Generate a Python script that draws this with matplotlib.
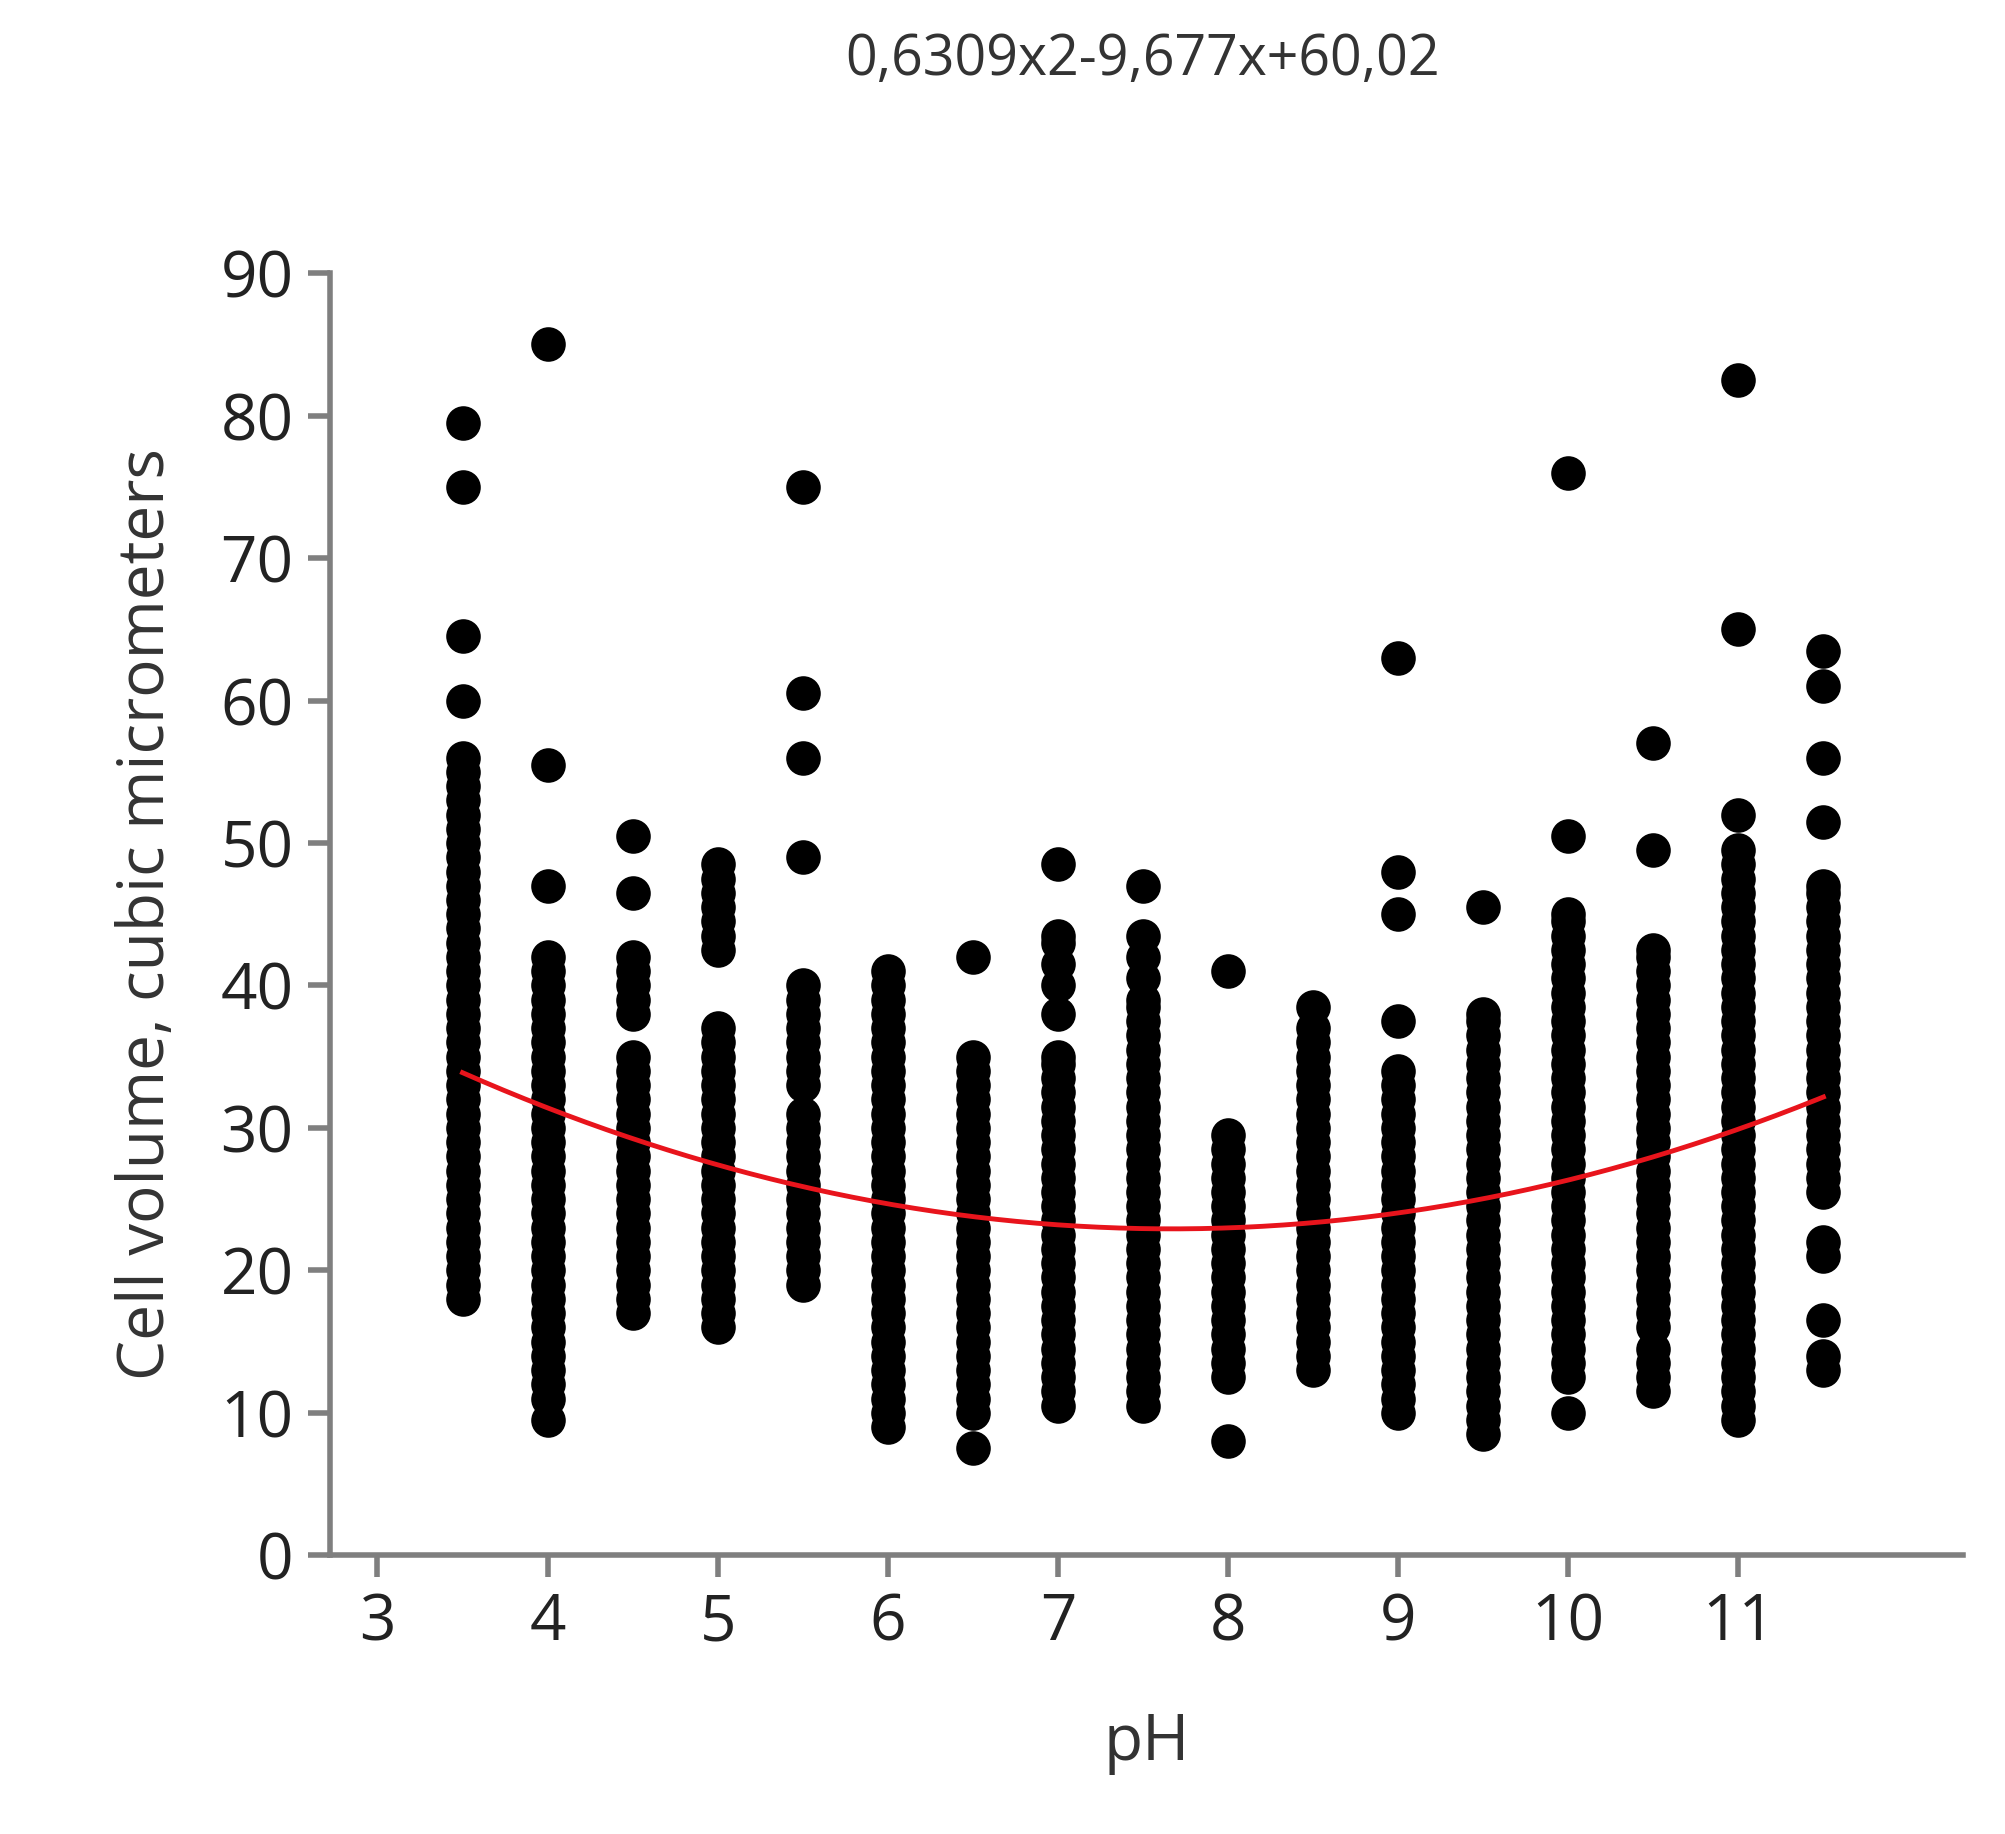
import matplotlib
matplotlib.use("Agg")
import matplotlib.pyplot as plt
import numpy as np

ph_levels = [3.5, 4, 4.5, 5, 5.5, 6, 6.5, 7, 7.5, 8, 8.5, 9, 9.5, 10, 10.5, 11, 11.5]
volumes = [
    [18,19,20,21,22,23,24,25,26,27,28,29,30,31,32,33,34,35,36,37,38,39,40,41,42,43,44,45,46,47,48,49,50,51,52,53,54,55,56,60,64.5,75,79.5],
    [9.5,11,12,13,14,15,16,17,18,19,20,21,22,23,24,25,26,27,28,29,30,31,32,33,34,35,36,37,38,39,40,41,42,47,55.5,85],
    [17,18,19,20,21,22,23,24,25,26,27,28,29,30,31,32,33,34,35,38,39,40,41,42,46.5,50.5],
    [16,17,18,19,20,21,22,23,24,25,26,27,28,29,30,31,32,33,34,35,36,37,42.5,43.5,44.5,45.5,46.5,47.5,48.5],
    [19,20,21,22,23,24,25,26,27,28,29,30,31,33,34,35,36,37,38,39,40,49,56,60.5,75],
    [9,10,11,12,13,14,15,16,17,18,19,20,21,22,23,24,25,26,27,28,29,30,31,32,33,34,35,36,37,38,39,40,41],
    [7.5,10,11,12,13,14,15,16,17,18,19,20,21,22,23,24,25,26,27,28,29,30,31,32,33,34,35,42],
    [10.5,11.5,12.5,13.5,14.5,15.5,16.5,17.5,18.5,19.5,20.5,21.5,22.5,23.5,24.5,25.5,26.5,27.5,28.5,29.5,30.5,31.5,32.5,33.5,34.5,35,38,40,41.5,43,43.5,48.5],
    [10.5,11.5,12.5,13.5,14.5,15.5,16.5,17.5,18.5,19.5,20.5,21.5,22.5,23.5,24.5,25.5,26.5,27.5,28.5,29.5,30.5,31.5,32.5,33.5,34.5,35.5,36.5,37.5,38.5,39,40.5,42,43.5,47],
    [8,12.5,13.5,14.5,15.5,16.5,17.5,18.5,19.5,20.5,21.5,22.5,23.5,24.5,25.5,26.5,27.5,28.5,29.5,41],
    [13,14,15,16,17,18,19,20,21,22,23,24,25,26,27,28,29,30,31,32,33,34,35,36,37,38.5],
    [10,11,12,13,14,15,16,17,18,19,20,21,22,23,24,25,26,27,28,29,30,31,32,33,34,37.5,45,48,63],
    [8.5,9.5,10.5,11.5,12.5,13.5,14.5,15.5,16.5,17.5,18.5,19.5,20.5,21.5,22.5,23.5,24.5,25.5,26.5,27.5,28.5,29.5,30.5,31.5,32.5,33.5,34.5,35.5,36.5,37.5,38,45.5],
    [10,12.5,13.5,14.5,15.5,16.5,17.5,18.5,19.5,20.5,21.5,22.5,23.5,24.5,25.5,26.5,27.5,28.5,29.5,30.5,31.5,32.5,33.5,34.5,35.5,36.5,37.5,38.5,39.5,40.5,41.5,42.5,43.5,44.5,45,50.5,76],
    [11.5,12.5,13.5,14.5,16,17,18,19,20,21,22,23,24,25,26,27,28,29,30,31,32,33,34,35,36,37,38,39,40,41,42,42.5,49.5,57],
    [9.5,10.5,11.5,12.5,13.5,14.5,15.5,16.5,17.5,18.5,19.5,20.5,21.5,22.5,23.5,24.5,25.5,26.5,27.5,28.5,29.5,30.5,31.5,32.5,33.5,34.5,35.5,36.5,37.5,38.5,39.5,40.5,41.5,42.5,43.5,44.5,45.5,46.5,47.5,48.5,49.5,52,65,82.5],
    [13,14,16.5,21,22,25.5,26.5,27.5,28.5,29.5,30.5,31.5,32.5,33.5,34.5,35.5,36.5,37.5,38.5,39.5,40.5,41.5,42.5,43.5,44.5,45.5,46.5,47,51.5,56,61,63.5],
]
coef = [0.6309, -9.677, 60.02]
title = "0,6309x2-9,677x+60,02"

plt.rcParams['font.family'] = ['Open Sans', 'DejaVu Sans']
fig = plt.figure(figsize=(20.05, 18.34), dpi=100)
ax = fig.add_axes([0.1645, 0.152, 0.8145, 0.699])

for x, vals in zip(ph_levels, volumes):
    ax.scatter([x]*len(vals), vals, s=620, color='black', zorder=2, linewidths=0)

xs = np.linspace(ph_levels[0], ph_levels[-1], 200)
ax.plot(xs, np.polyval(coef, xs), color='#e8141c', lw=3.5, zorder=3)

ax.set_xlim(2.72, 12.32)
ax.set_ylim(0, 90)
ax.set_xticks(range(3, 12))
ax.set_yticks(range(0, 91, 10))
grey = '#7f7f7f'
for s in ['top', 'right']:
    ax.spines[s].set_visible(False)
for s in ['left', 'bottom']:
    ax.spines[s].set_color(grey)
    ax.spines[s].set_linewidth(4)
ax.tick_params(axis='both', direction='out', length=16, width=4, color=grey,
               labelsize=46, labelcolor='#222222', pad=10)
ax.set_xlabel("pH", fontsize=46, color='#333333', labelpad=40)
ax.set_ylabel("Cell volume, cubic micrometers", fontsize=46, color='#333333', labelpad=30)
fig.text(0.57, 0.967, title, fontsize=40, color='#333333', ha='center', va='center')
fig.savefig("out.png", dpi=100)
